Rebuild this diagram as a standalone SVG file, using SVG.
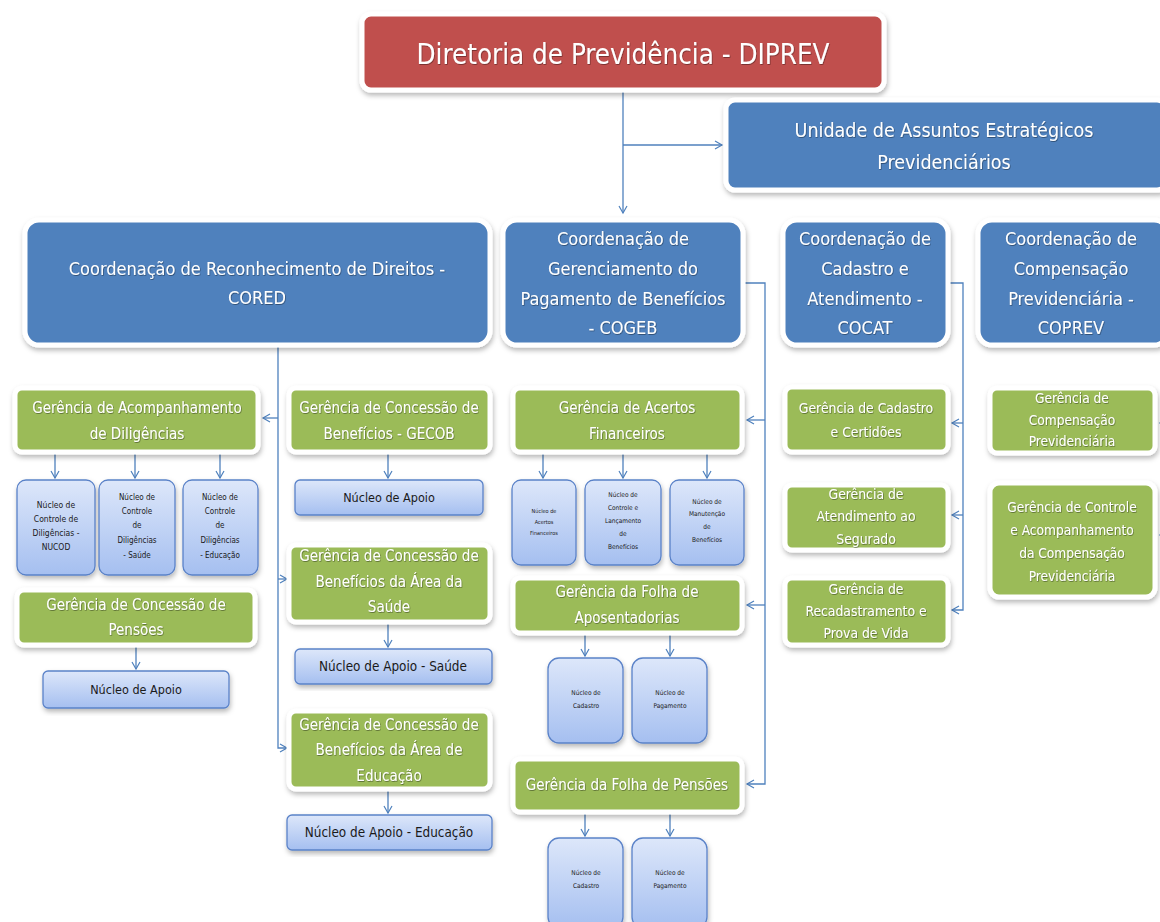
<svg xmlns="http://www.w3.org/2000/svg" width="1160" height="922" viewBox="0 0 1160 922">
<defs>
<filter id="sh" x="-10%" y="-10%" width="120%" height="130%">
<feDropShadow dx="1" dy="3" stdDeviation="2.5" flood-color="#000" flood-opacity="0.28"/>
</filter>
<filter id="ts" x="-5%" y="-20%" width="110%" height="140%">
<feDropShadow dx="0.6" dy="0.8" stdDeviation="0.5" flood-color="#000" flood-opacity="0.45"/>
</filter>
<linearGradient id="nuc" x1="0" y1="0" x2="0" y2="1">
<stop offset="0" stop-color="#dde7fa"/>
<stop offset="1" stop-color="#a5bff0"/>
</linearGradient>
<marker id="ar" markerWidth="10" markerHeight="10" refX="8" refY="5" orient="auto" markerUnits="userSpaceOnUse">
<path d="M1,1 L8,5 L1,9" fill="none" stroke="#4f81bd" stroke-width="1.2"/>
</marker>
</defs>
<style>
.red{fill:#c0504d;stroke:#fff;stroke-width:5;filter:url(#sh)}
.blue{fill:#4f81bd;stroke:#fff;stroke-width:5;filter:url(#sh)}
.green{fill:#9bbb59;stroke:#fff;stroke-width:5;filter:url(#sh)}
.nuc{fill:url(#nuc);stroke:#5a82c8;stroke-width:1.3;filter:url(#sh)}
.t{font-family:"Liberation Sans Narrow","DejaVu Sans Condensed","Liberation Sans",sans-serif;fill:#fff;text-anchor:middle;dominant-baseline:central;filter:url(#ts)}
.n{font-family:"Liberation Sans Narrow","DejaVu Sans Condensed","Liberation Sans",sans-serif;fill:#1a1a1a;text-anchor:middle;dominant-baseline:central}
.c{fill:none;stroke:#4f81bd;stroke-width:1.3}
</style>
<rect width="1160" height="922" fill="#fff"/>

<g id="connectors">
<path class="c" d="M623,92 V213" marker-end="url(#ar)"/>
<path class="c" d="M623,145 H722" marker-end="url(#ar)"/>
<path class="c" d="M278,345 V748 H287" marker-end="url(#ar)"/>
<path class="c" d="M278,418 H263" marker-end="url(#ar)"/>
<path class="c" d="M278,579 H287" marker-end="url(#ar)"/>
<path class="c" d="M55,453 V478" marker-end="url(#ar)"/>
<path class="c" d="M135,453 V478" marker-end="url(#ar)"/>
<path class="c" d="M220,453 V478" marker-end="url(#ar)"/>
<path class="c" d="M388,453 V478" marker-end="url(#ar)"/>
<path class="c" d="M388,623 V647" marker-end="url(#ar)"/>
<path class="c" d="M388,791 V813" marker-end="url(#ar)"/>
<path class="c" d="M136,646 V669" marker-end="url(#ar)"/>
<path class="c" d="M745,283 H765 V784 H747" marker-end="url(#ar)"/>
<path class="c" d="M765,420 H747" marker-end="url(#ar)"/>
<path class="c" d="M765,605 H747" marker-end="url(#ar)"/>
<path class="c" d="M543,453 V478" marker-end="url(#ar)"/>
<path class="c" d="M623,453 V478" marker-end="url(#ar)"/>
<path class="c" d="M707,453 V478" marker-end="url(#ar)"/>
<path class="c" d="M585,634 V656" marker-end="url(#ar)"/>
<path class="c" d="M670,634 V656" marker-end="url(#ar)"/>
<path class="c" d="M585,813 V836" marker-end="url(#ar)"/>
<path class="c" d="M670,813 V836" marker-end="url(#ar)"/>
<path class="c" d="M948,283 H963 V610 H952" marker-end="url(#ar)"/>
<path class="c" d="M963,423 H952" marker-end="url(#ar)"/>
<path class="c" d="M963,515 H952" marker-end="url(#ar)"/>
<path class="c" d="M1172,423 H1160" marker-end="url(#ar)"/>
<path class="c" d="M1172,535 H1160" marker-end="url(#ar)"/>
</g>

<g id="diprev">
<rect class="red" x="362" y="14" width="522" height="76" rx="9"/>
<text class="t" x="623" y="54" font-size="27.5">Diretoria de Previdência - DIPREV</text>
</g>
<g id="unidade">
<rect class="blue" x="726" y="100" width="440" height="90" rx="9"/>
<text class="t" x="944" y="130" font-size="19.5">Unidade de Assuntos Estratégicos</text>
<text class="t" x="944" y="162" font-size="19.5">Previdenciários</text>
</g>

<g id="cored">
<rect class="blue" x="25" y="220" width="465" height="125" rx="14"/>
<text class="t" x="257" y="268" font-size="18">Coordenação de Reconhecimento de Direitos -</text>
<text class="t" x="257" y="297" font-size="18">CORED</text>
</g>
<g id="cogeb">
<rect class="blue" x="503" y="220" width="240" height="125" rx="14"/>
<text class="t" x="623" y="238" font-size="18">Coordenação de</text>
<text class="t" x="623" y="268" font-size="18">Gerenciamento do</text>
<text class="t" x="623" y="298" font-size="18">Pagamento de Benefícios</text>
<text class="t" x="623" y="327" font-size="18">- COGEB</text>
</g>
<g id="cocat">
<rect class="blue" x="783" y="220" width="165" height="125" rx="14"/>
<text class="t" x="865" y="238" font-size="18">Coordenação de</text>
<text class="t" x="865" y="268" font-size="18">Cadastro e</text>
<text class="t" x="865" y="298" font-size="18">Atendimento -</text>
<text class="t" x="865" y="327" font-size="18">COCAT</text>
</g>
<g id="coprev">
<rect class="blue" x="978" y="220" width="190" height="125" rx="14"/>
<text class="t" x="1071" y="238" font-size="18">Coordenação de</text>
<text class="t" x="1071" y="268" font-size="18">Compensação</text>
<text class="t" x="1071" y="298" font-size="18">Previdenciária -</text>
<text class="t" x="1071" y="327" font-size="18">COPREV</text>
</g>

<g id="g-acomp">
<rect class="green" x="15" y="388" width="243" height="64" rx="7"/>
<text class="t" x="137" y="408" font-size="15">Gerência de Acompanhamento</text>
<text class="t" x="137" y="434" font-size="15">de Diligências</text>
</g>
<g id="n-nucod">
<rect class="nuc" x="17" y="480" width="78" height="95" rx="9"/>
<text class="n" x="56" y="505" font-size="8.5">Núcleo de</text>
<text class="n" x="56" y="519" font-size="8.5">Controle de</text>
<text class="n" x="56" y="533" font-size="8.5">Diligências -</text>
<text class="n" x="56" y="547" font-size="8.5">NUCOD</text>
</g>
<g id="n-dil-saude">
<rect class="nuc" x="99" y="480" width="76" height="95" rx="9"/>
<text class="n" x="137" y="497" font-size="8">Núcleo de</text>
<text class="n" x="137" y="511" font-size="8">Controle</text>
<text class="n" x="137" y="525" font-size="8">de</text>
<text class="n" x="137" y="540" font-size="8">Diligências</text>
<text class="n" x="137" y="555" font-size="8">- Saúde</text>
</g>
<g id="n-dil-educ">
<rect class="nuc" x="183" y="480" width="75" height="95" rx="9"/>
<text class="n" x="220" y="497" font-size="8">Núcleo de</text>
<text class="n" x="220" y="511" font-size="8">Controle</text>
<text class="n" x="220" y="525" font-size="8">de</text>
<text class="n" x="220" y="540" font-size="8">Diligências</text>
<text class="n" x="220" y="555" font-size="8">- Educação</text>
</g>
<g id="g-pensoes">
<rect class="green" x="17" y="590" width="238" height="55" rx="7"/>
<text class="t" x="136" y="605" font-size="15">Gerência de Concessão de</text>
<text class="t" x="136" y="630" font-size="15">Pensões</text>
</g>
<g id="n-apoio-pens">
<rect class="nuc" x="43" y="671" width="186" height="37" rx="5"/>
<text class="n" x="136" y="689" font-size="12.5">Núcleo de Apoio</text>
</g>

<g id="g-gecob">
<rect class="green" x="289" y="388" width="201" height="64" rx="7"/>
<text class="t" x="389" y="408" font-size="15">Gerência de Concessão de</text>
<text class="t" x="389" y="434" font-size="15">Benefícios - GECOB</text>
</g>
<g id="n-apoio">
<rect class="nuc" x="295" y="480" width="188" height="35" rx="5"/>
<text class="n" x="389" y="497" font-size="12.5">Núcleo de Apoio</text>
</g>
<g id="g-saude">
<rect class="green" x="289" y="545" width="201" height="77" rx="7"/>
<text class="t" x="389" y="556" font-size="15">Gerência de Concessão de</text>
<text class="t" x="389" y="582" font-size="15">Benefícios da Área da</text>
<text class="t" x="389" y="607" font-size="15">Saúde</text>
</g>
<g id="n-apoio-saude">
<rect class="nuc" x="295" y="649" width="197" height="35" rx="5"/>
<text class="n" x="393" y="666" font-size="13.4">Núcleo de Apoio - Saúde</text>
</g>
<g id="g-educ">
<rect class="green" x="289" y="711" width="201" height="78" rx="7"/>
<text class="t" x="389" y="725" font-size="15">Gerência de Concessão de</text>
<text class="t" x="389" y="750" font-size="15">Benefícios da Área de</text>
<text class="t" x="389" y="776" font-size="15">Educação</text>
</g>
<g id="n-apoio-educ">
<rect class="nuc" x="287" y="815" width="205" height="35" rx="5"/>
<text class="n" x="389" y="832" font-size="13.4">Núcleo de Apoio - Educação</text>
</g>

<g id="g-acertos">
<rect class="green" x="513" y="388" width="229" height="64" rx="7"/>
<text class="t" x="627" y="408" font-size="15">Gerência de Acertos</text>
<text class="t" x="627" y="434" font-size="15">Financeiros</text>
</g>
<g id="n-acertos">
<rect class="nuc" x="512" y="480" width="64" height="85" rx="9"/>
<text class="n" x="544" y="511" font-size="5.5">Núcleo de</text>
<text class="n" x="544" y="522" font-size="5.5">Acertos</text>
<text class="n" x="544" y="533" font-size="5.5">Financeiros</text>
</g>
<g id="n-lanc">
<rect class="nuc" x="585" y="480" width="76" height="85" rx="9"/>
<text class="n" x="623" y="495" font-size="6.5">Núcleo de</text>
<text class="n" x="623" y="508" font-size="6.5">Controle e</text>
<text class="n" x="623" y="521" font-size="6.5">Lançamento</text>
<text class="n" x="623" y="534" font-size="6.5">de</text>
<text class="n" x="623" y="547" font-size="6.5">Benefícios</text>
</g>
<g id="n-manut">
<rect class="nuc" x="670" y="480" width="74" height="85" rx="9"/>
<text class="n" x="707" y="502" font-size="6.5">Núcleo de</text>
<text class="n" x="707" y="514" font-size="6.5">Manutenção</text>
<text class="n" x="707" y="527" font-size="6.5">de</text>
<text class="n" x="707" y="540" font-size="6.5">Benefícios</text>
</g>
<g id="g-apos">
<rect class="green" x="513" y="578" width="229" height="55" rx="7"/>
<text class="t" x="627" y="592" font-size="15">Gerência da Folha de</text>
<text class="t" x="627" y="618" font-size="15">Aposentadorias</text>
</g>
<g id="n-cad-apos">
<rect class="nuc" x="548" y="658" width="75" height="85" rx="11"/>
<text class="n" x="586" y="693" font-size="6.5">Núcleo de</text>
<text class="n" x="586" y="706" font-size="6.5">Cadastro</text>
</g>
<g id="n-pag-apos">
<rect class="nuc" x="632" y="658" width="75" height="85" rx="11"/>
<text class="n" x="670" y="693" font-size="6.5">Núcleo de</text>
<text class="n" x="670" y="706" font-size="6.5">Pagamento</text>
</g>
<g id="g-folha-pens">
<rect class="green" x="513" y="759" width="229" height="53" rx="7"/>
<text class="t" x="627" y="785" font-size="15">Gerência da Folha de Pensões</text>
</g>
<g id="n-cad-pens">
<rect class="nuc" x="548" y="838" width="75" height="90" rx="11"/>
<text class="n" x="586" y="873" font-size="6.5">Núcleo de</text>
<text class="n" x="586" y="886" font-size="6.5">Cadastro</text>
</g>
<g id="n-pag-pens">
<rect class="nuc" x="632" y="838" width="75" height="90" rx="11"/>
<text class="n" x="670" y="873" font-size="6.5">Núcleo de</text>
<text class="n" x="670" y="886" font-size="6.5">Pagamento</text>
</g>

<g id="g-cadastro">
<rect class="green" x="785" y="387" width="163" height="65" rx="7"/>
<text class="t" x="866" y="408" font-size="13.8">Gerência de Cadastro</text>
<text class="t" x="866" y="432" font-size="13.8">e Certidões</text>
</g>
<g id="g-atend">
<rect class="green" x="785" y="485" width="163" height="65" rx="7"/>
<text class="t" x="866" y="494" font-size="13.8">Gerência de</text>
<text class="t" x="866" y="516" font-size="13.8">Atendimento ao</text>
<text class="t" x="866" y="539" font-size="13.8">Segurado</text>
</g>
<g id="g-recad">
<rect class="green" x="785" y="578" width="163" height="67" rx="7"/>
<text class="t" x="866" y="589" font-size="13.8">Gerência de</text>
<text class="t" x="866" y="611" font-size="13.8">Recadastramento e</text>
<text class="t" x="866" y="633" font-size="13.8">Prova de Vida</text>
</g>

<g id="g-comp">
<rect class="green" x="990" y="388" width="165" height="65" rx="7"/>
<text class="t" x="1072" y="398" font-size="13.6">Gerência de</text>
<text class="t" x="1072" y="420" font-size="13.6">Compensação</text>
<text class="t" x="1072" y="441" font-size="13.6">Previdenciária</text>
</g>
<g id="g-controle">
<rect class="green" x="990" y="483" width="165" height="114" rx="9"/>
<text class="t" x="1072" y="507" font-size="13.6">Gerência de Controle</text>
<text class="t" x="1072" y="530" font-size="13.6">e Acompanhamento</text>
<text class="t" x="1072" y="553" font-size="13.6">da Compensação</text>
<text class="t" x="1072" y="576" font-size="13.6">Previdenciária</text>
</g>
</svg>
